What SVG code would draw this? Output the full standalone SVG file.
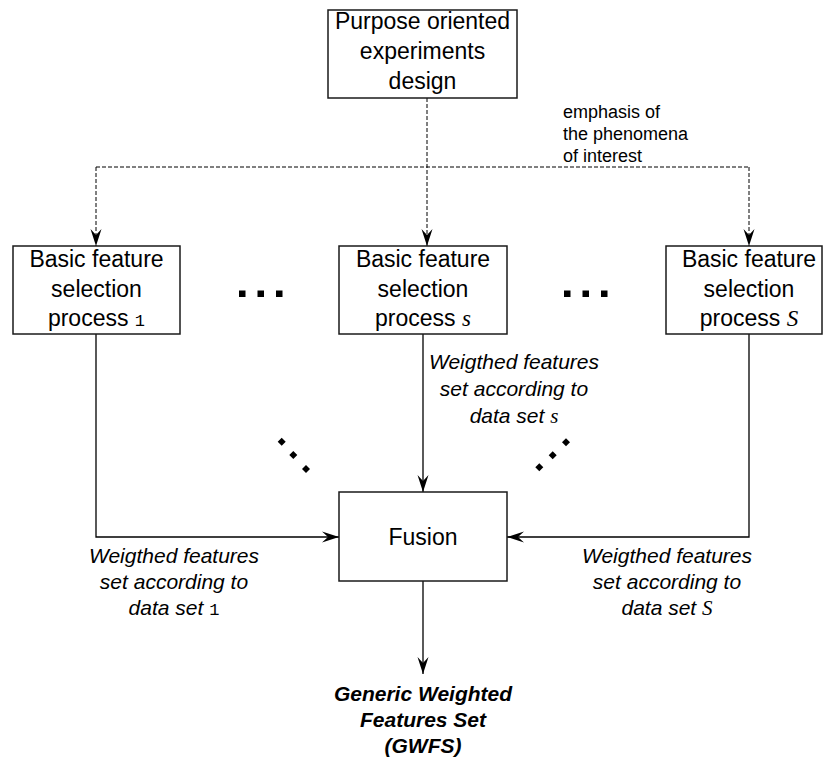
<svg xmlns="http://www.w3.org/2000/svg" width="823" height="760" viewBox="0 0 823 760">
<defs>
<style>
.box{fill:#fff;stroke:#1a1a1a;stroke-width:1.5}
.t{font-family:"Liberation Sans",Arial,sans-serif;font-size:23px;fill:#000;text-anchor:middle}
.lab{font-family:"Liberation Sans",Arial,sans-serif;font-size:21px;font-style:italic;fill:#000;text-anchor:middle}
.em{font-family:"Liberation Sans",Arial,sans-serif;font-size:18px;fill:#000}
.gw{font-family:"Liberation Sans",Arial,sans-serif;font-size:21px;font-style:italic;font-weight:bold;fill:#000;text-anchor:middle}
.mono{font-family:"Liberation Mono","Courier New",monospace;font-style:normal;font-size:17px}
.math{font-family:"Liberation Serif","Times New Roman",serif;font-style:italic}
.solid{fill:none;stroke:#000;stroke-width:1.3}
.dash{fill:none;stroke:#000;stroke-width:1;stroke-dasharray:4 2}
.dot{fill:#000}
</style>
<marker id="arr" markerUnits="userSpaceOnUse" markerWidth="20" markerHeight="14" refX="18" refY="7" orient="auto" viewBox="0 0 20 14">
<path d="M18,7 L1,1.5 L7,7 L1,12.5 Z" fill="#000" stroke="none"/>
</marker>
</defs>

<g id="connectors">
<path class="dash" d="M427,98 V246" marker-end="url(#arr)"/>
<path class="dash" d="M96,167 H749"/>
<path class="dash" d="M96,167 V246" marker-end="url(#arr)"/>
<path class="dash" d="M749,167 V246" marker-end="url(#arr)"/>
<path class="solid" d="M96,334 V537 H339" marker-end="url(#arr)"/>
<path class="solid" d="M423,334 V492" marker-end="url(#arr)"/>
<path class="solid" d="M749,334 V537 H507" marker-end="url(#arr)"/>
<path class="solid" d="M423,581 V674" marker-end="url(#arr)"/>
</g>

<g id="purpose">
<rect class="box" x="328" y="10" width="189" height="88"/>
<text class="t" x="422.5" y="29">Purpose oriented</text>
<text class="t" x="422.5" y="59">experiments</text>
<text class="t" x="422.5" y="89">design</text>
</g>

<g id="emphasis-label">
<text class="em" x="563" y="117.5">emphasis of</text>
<text class="em" x="563" y="139.5">the phenomena</text>
<text class="em" x="563" y="161.5">of interest</text>
</g>

<g id="bfs1">
<rect class="box" x="13" y="246" width="167" height="88"/>
<text class="t" x="96.5" y="267">Basic feature</text>
<text class="t" x="96.5" y="296.5">selection</text>
<text class="t" x="96.5" y="325.5">process <tspan class="mono">1</tspan></text>
</g>

<g id="bfss">
<rect class="box" x="339" y="246" width="168" height="88"/>
<text class="t" x="423" y="267">Basic feature</text>
<text class="t" x="423" y="296.5">selection</text>
<text class="t" x="423" y="325.5">process <tspan class="math">s</tspan></text>
</g>

<g id="bfsS">
<rect class="box" x="666" y="246" width="156" height="88"/>
<text class="t" x="749" y="267">Basic feature</text>
<text class="t" x="749" y="296.5">selection</text>
<text class="t" x="749" y="325.5">process <tspan class="math">S</tspan></text>
</g>

<g id="fusion">
<rect class="box" x="339" y="492" width="168" height="89"/>
<text class="t" x="423" y="544.5">Fusion</text>
</g>

<g id="dots">
<rect class="dot" x="239" y="290.5" width="6.5" height="6.5"/>
<rect class="dot" x="257.5" y="290.5" width="6.5" height="6.5"/>
<rect class="dot" x="276" y="290.5" width="6.5" height="6.5"/>
<rect class="dot" x="564" y="290.5" width="6.5" height="6.5"/>
<rect class="dot" x="582.5" y="290.5" width="6.5" height="6.5"/>
<rect class="dot" x="601" y="290.5" width="6.5" height="6.5"/>
<path class="dot" d="M281.7,437.7 l4,4 l-4,4 l-4,-4 z M293.3,451 l4,4 l-4,4 l-4,-4 z M306,465 l4,4 l-4,4 l-4,-4 z"/>
<path class="dot" d="M566,438.3 l4,4 l-4,4 l-4,-4 z M552.7,451.3 l4,4 l-4,4 l-4,-4 z M539.3,463.3 l4,4 l-4,4 l-4,-4 z"/>
</g>

<g id="label-s">
<text class="lab" x="514" y="369">Weigthed features</text>
<text class="lab" x="514" y="396">set according to</text>
<text class="lab" x="514" y="423">data set <tspan class="math">s</tspan></text>
</g>

<g id="label-1">
<text class="lab" x="174" y="563">Weigthed features</text>
<text class="lab" x="174" y="589">set according to</text>
<text class="lab" x="174" y="615">data set <tspan class="mono">1</tspan></text>
</g>

<g id="label-S">
<text class="lab" x="667" y="563">Weigthed features</text>
<text class="lab" x="667" y="589">set according to</text>
<text class="lab" x="667" y="615">data set <tspan class="math">S</tspan></text>
</g>

<g id="gwfs">
<text class="gw" x="423" y="701">Generic Weighted</text>
<text class="gw" x="423" y="727">Features Set</text>
<text class="gw" x="423" y="753">(GWFS)</text>
</g>
</svg>
